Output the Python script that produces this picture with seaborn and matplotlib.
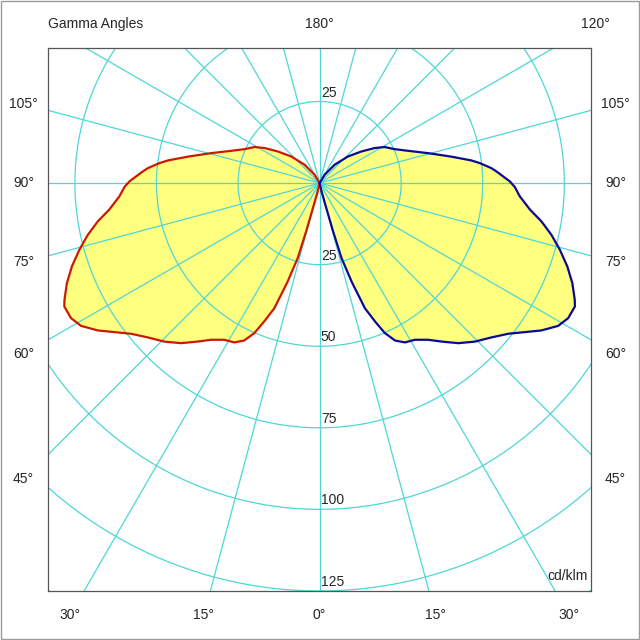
import numpy as np
import pandas as pd
import matplotlib
matplotlib.use('Agg')
import matplotlib.pyplot as plt
from matplotlib.patches import Rectangle
import seaborn as sns

# gamma angle (deg, 0 = straight down) and intensity in cd/klm
gamma_deg = [0, 10, 13, 15.0, 15.6, 16.3, 18.0, 19.9, 21.8, 23.5, 25.6, 28.2, 31.3, 34.7,
             37.6, 40.9, 44.4, 48.1, 51.4, 54.0, 56.4, 59.1, 61.5, 64.2, 65.4, 68.4,
             71.4, 74.5, 77.4, 80.2, 82.8, 86.2, 88.9, 90.5, 93.7, 95.0, 97.1, 98.5,
             101.4, 105.5, 110.1, 114.4, 119.0, 122.5, 127.2, 133.2, 140.7, 149, 152, 180]
cd_right = [0, 0.5, 2.7, 8.1, 15.5, 24.0, 31.8, 40.8, 45.6, 50.1, 53.5, 55.4, 56.2, 58.4,
            61.3, 64.9, 68.0, 70.8, 74.0, 77.7, 81.6, 85.2, 86.7, 86.9, 86.0, 83.3,
            80.1, 76.4, 72.8, 69.0, 65.0, 61.5, 59.8, 58.3, 54.4, 52.8, 49.5, 47.0,
            41.1, 34.4, 28.8, 25.2, 22.8, 20.0, 16.0, 11.9, 7.3, 3.0, 0, 0]
cd_left = list(cd_right)  # mirrored plane

ring_values = [25, 50, 75, 100, 125, 150]
ring_labels = [25, 50, 75, 100, 125]
side_labels = [105, 90, 75, 60, 45]
bottom_labels = [-30, -15, 0, 15, 30]

grid_col = '#4fd6d6'
fill_col = '#ffff80'

sns.set_theme(style='white')
plt.rcParams['font.family'] = ['Liberation Sans', 'DejaVu Sans']

fig = plt.figure(figsize=(6.4, 6.4), dpi=100)
ax = fig.add_axes([0.0747, 0.0766, 0.8494, 0.8489])

g = np.radians(gamma_deg)
df = pd.DataFrame({
    'xr': np.array(cd_right) * np.sin(g),
    'yr': -np.array(cd_right) * np.cos(g),
    'xl': -np.array(cd_left) * np.sin(g),
    'yl': -np.array(cd_left) * np.cos(g),
})

# yellow lobes underneath the grid
ax.fill(df['xr'], df['yr'], color=fill_col, lw=0, zorder=1)
ax.fill(df['xl'], df['yl'], color=fill_col, lw=0, zorder=1)

# polar grid
t = np.linspace(0, 2 * np.pi, 400)
for r in ring_values:
    ax.plot(r * np.cos(t), r * np.sin(t), color=grid_col, lw=0.9, zorder=2)
for a in range(0, 360, 15):
    ar = np.radians(a)
    ax.plot([0, 300 * np.sin(ar)], [0, -300 * np.cos(ar)], color=grid_col, lw=0.9, zorder=2)

sns.lineplot(data=df, x='xl', y='yl', sort=False, estimator=None, color='#cc1a00',
             lw=1.6, ax=ax, zorder=3, solid_joinstyle='round')
sns.lineplot(data=df, x='xr', y='yr', sort=False, estimator=None, color='#0a0a96',
             lw=1.6, ax=ax, zorder=3, solid_joinstyle='round')

ax.set_xlim(-83.3, 83.3)
ax.set_ylim(-125, 41.5)
ax.set_xticks([])
ax.set_yticks([])
ax.set_xlabel('')
ax.set_ylabel('')
for s in ax.spines.values():
    s.set_color('#555555')
    s.set_linewidth(0.9)

fs = 10
# intensity labels on the vertical axis
ax.text(0.4, 25.6, '25', fontsize=fs, ha='left', va='bottom', zorder=4)
for v in ring_labels:
    ax.text(0.4, -v + 0.6, str(v), fontsize=fs, ha='left', va='bottom', zorder=4)
ax.text(0.993, 0.015, 'cd/klm', transform=ax.transAxes, fontsize=fs, ha='right', va='bottom')

# gamma angle labels around the frame
sx, top_y, bot_y = 90.7, 48.8, -132.3
for a in side_labels:
    y = -sx / np.tan(np.radians(a)) if a != 90 else 0
    ax.text(-sx, y, f'{a}°', fontsize=fs, ha='center', va='center', clip_on=False)
    ax.text(sx, y, f'{a}°', fontsize=fs, ha='center', va='center', clip_on=False)
for a in bottom_labels:
    x = -bot_y * np.tan(np.radians(a))
    ax.text(x, bot_y, f'{abs(a)}°', fontsize=fs, ha='center', va='center', clip_on=False)
ax.text(0, top_y, '180°', fontsize=fs, ha='center', va='center', clip_on=False)
ax.text(top_y * np.tan(np.radians(60)), top_y, '120°', fontsize=fs, ha='center', va='center',
        clip_on=False)
ax.text(-83.3, top_y, 'Gamma Angles', fontsize=fs, ha='left', va='center', clip_on=False)

fig.patches.append(Rectangle((0.001, 0.001), 0.997, 0.997, transform=fig.transFigure,
                             fill=False, edgecolor='#9a9a9a', lw=1.0))

fig.savefig('out.png', dpi=100, facecolor='white')
